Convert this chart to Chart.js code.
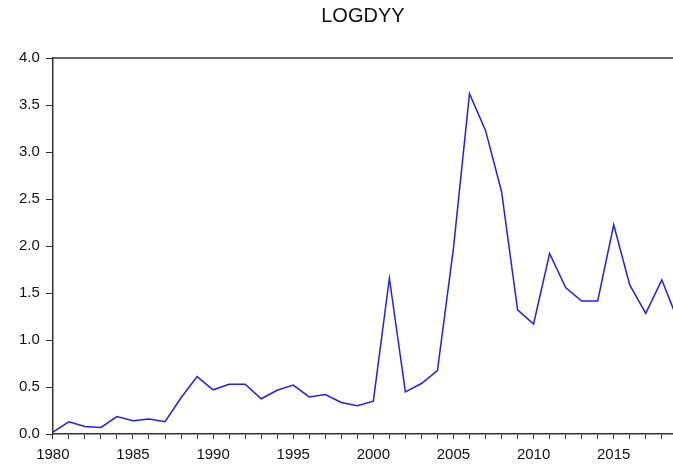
<!DOCTYPE html>
<html>
<head>
<meta charset="utf-8">
<script src="https://cdn.jsdelivr.net/npm/chart.js@4/dist/chart.umd.min.js"></script>
<style>
    html, body { margin: 0; padding: 0; background: #FFFFFF; }
    #wrap { width: 673px; height: 471px; position: relative; }
</style>
</head>
<body>
<div id="wrap"><canvas id="graph_logdyy"></canvas></div>
<script>

var LOGDYY_YEARS    = [1980, 1981, 1982, 1983, 1984, 1985, 1986, 1987, 1988, 1989,
                       1990, 1991, 1992, 1993, 1994, 1995, 1996, 1997, 1998, 1999,
                       2000, 2001, 2002, 2003, 2004, 2005, 2006, 2007, 2008, 2009,
                       2010, 2011, 2012, 2013, 2014, 2015, 2016, 2017, 2018, 2019];

var LOGDYY_VALUES   = [0.02, 0.13, 0.08, 0.07, 0.185, 0.14, 0.16, 0.13, 0.385, 0.61,
                       0.47, 0.53, 0.53, 0.375, 0.465, 0.52, 0.395, 0.42, 0.335, 0.30,
                       0.35, 1.657, 0.448, 0.537, 0.675, 1.977, 3.62, 3.23, 2.58, 1.32,
                       1.17, 1.92, 1.557, 1.415, 1.415, 2.226, 1.586, 1.283, 1.64, 1.21];

var Y_TICKS         = [0.0, 0.5, 1.0, 1.5, 2.0, 2.5, 3.0, 3.5, 4.0];

var AXIS_COLOR      = '#333333';
var TEXT_COLOR      = '#111111';



function graph_points() {

    return LOGDYY_YEARS.map(function(year, i) {
        return { x: year, y: LOGDYY_VALUES[i] };
    });
}



// top frame line (EViews box, the right side is cut off in the picture)
var graph_frame_plugin = {
    id: 'graph_frame',
    afterDraw: function(chart) {
        var ctx  = chart.ctx;
        var area = chart.chartArea;
        ctx.save();
        ctx.strokeStyle = AXIS_COLOR;
        ctx.lineWidth   = 1.5;
        ctx.beginPath();
        ctx.moveTo(area.left, area.top);
        ctx.lineTo(area.right + 2, area.top);
        ctx.stroke();
        ctx.restore();
    }
};



Chart.defaults.font.family = '"Liberation Sans", Arial, sans-serif';
Chart.defaults.color       = TEXT_COLOR;

new Chart(document.getElementById('graph_logdyy'), {
    type: 'line',
    data: {
        datasets: [
            {
                data: graph_points(),
                borderColor: '#1E1EFF',
                borderWidth: 1.5,
                pointRadius: 0,
                tension: 0,
                fill: false,
            }
        ]
    },
    options: {
        responsive: true,
        maintainAspectRatio: false,
        animation: false,
        layout: {
            padding: { top: 2, left: 13, right: 0, bottom: 0 }
        },
        scales: {
            x: {
                type: 'linear',
                min: 1980,
                max: 2018.7,
                afterBuildTicks: function(scale) {
                    scale.ticks = LOGDYY_YEARS.filter(function(y) { return y <= 2018; }).map(function(y) { return { value: y }; });
                },
                ticks: {
                    autoSkip: false,
                    maxRotation: 0,
                    padding: 7,
                    font: { size: 15 },
                    callback: function(value) { return value % 5 === 0 ? String(value) : ''; }
                },
                grid: {
                    drawOnChartArea: false,
                    drawTicks: true,
                    tickLength: 5,
                    tickColor: AXIS_COLOR,
                    tickWidth: 1,
                },
                border: { display: true, color: AXIS_COLOR, width: 1.5 }
            },
            y: {
                min: 0,
                max: 4,
                afterBuildTicks: function(scale) {
                    scale.ticks = Y_TICKS.map(function(v) { return { value: v }; });
                },
                ticks: {
                    padding: 6,
                    font: { size: 15 },
                    callback: function(value) { return value.toFixed(1); }
                },
                grid: {
                    drawOnChartArea: false,
                    drawTicks: true,
                    tickLength: 7,
                    tickColor: AXIS_COLOR,
                    tickWidth: 1,
                },
                border: { display: true, color: AXIS_COLOR, width: 1.5 }
            }
        },
        plugins: {
            legend: { display: false },
            tooltip: { enabled: false },
            title: {
                display: true,
                fullSize: false,
                text: 'LOGDYY',
                color: TEXT_COLOR,
                font: { size: 20, weight: 'normal' },
                padding: { top: 2, bottom: 30 }
            }
        }
    },
    plugins: [graph_frame_plugin]
});

</script>
</body>
</html>
